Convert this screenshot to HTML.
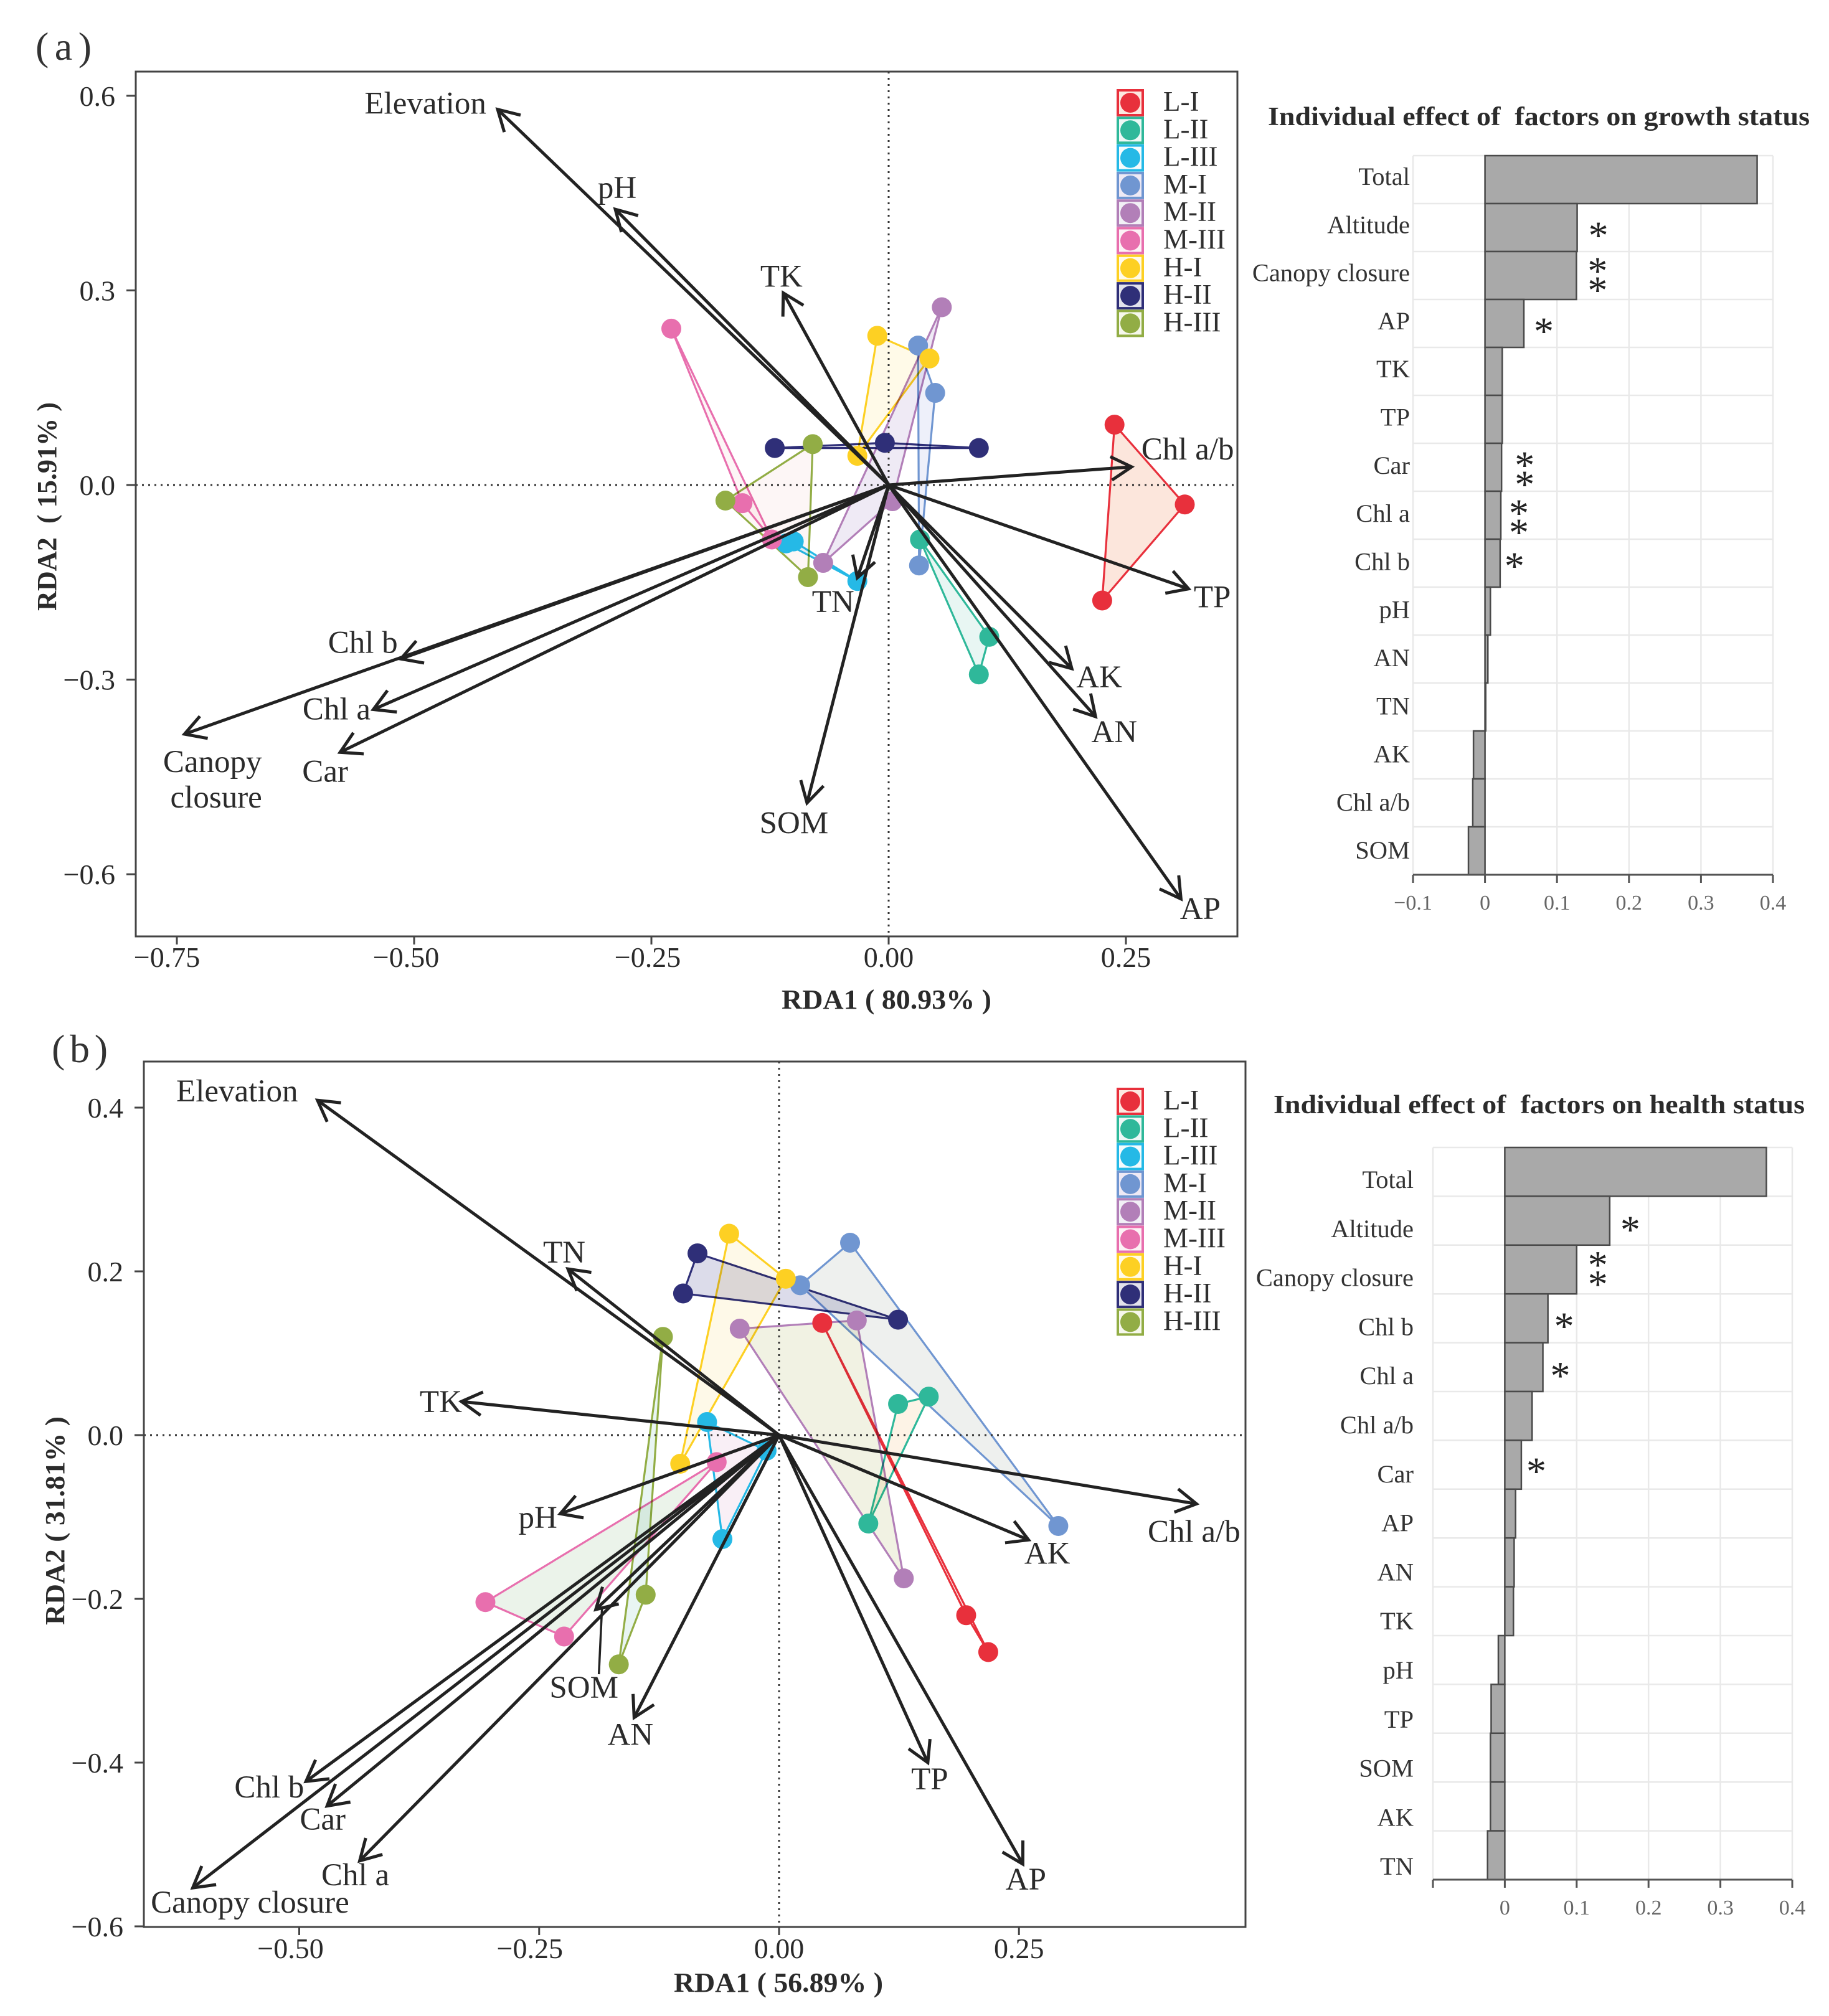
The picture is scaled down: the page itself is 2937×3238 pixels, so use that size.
<!DOCTYPE html>
<html>
<head>
<meta charset="utf-8">
<title>RDA biplots and individual factor effects</title>
<style>
html,body{margin:0;padding:0;background:#fff;}
svg{display:block;font-family:"Liberation Serif",serif;}
</style>
</head>
<body>
<svg id="figure" xmlns="http://www.w3.org/2000/svg" width="2937" height="3238" viewBox="0 0 2937 3238">
<rect width="2937" height="3238" fill="#ffffff"/>
<text x="57" y="96" font-size="64" fill="#333" textLength="90" lengthAdjust="spacing">(a)</text>
<text x="83" y="1706" font-size="64" fill="#333" textLength="90" lengthAdjust="spacing">(b)</text>
<text x="1255" y="1620" font-size="44" font-weight="bold" fill="#2b2b2b" textLength="337" lengthAdjust="spacingAndGlyphs">RDA1 ( 80.93% )</text>
<text transform="translate(90,981) rotate(-90)" font-size="44" font-weight="bold" fill="#2b2b2b" textLength="335" lengthAdjust="spacingAndGlyphs">RDA2&#160;&#160;(&#160;15.91%&#160;)</text>
<text x="1082" y="3199" font-size="44" font-weight="bold" fill="#2b2b2b" textLength="336" lengthAdjust="spacingAndGlyphs">RDA1 ( 56.89% )</text>
<text transform="translate(103,2610) rotate(-90)" font-size="44" font-weight="bold" fill="#2b2b2b" textLength="335" lengthAdjust="spacingAndGlyphs">RDA2 ( 31.81% )</text>
<text x="2036" y="201" font-size="42" font-weight="bold" fill="#2b2b2b" textLength="870" lengthAdjust="spacingAndGlyphs">Individual effect of&#160; factors on growth status</text>
<text x="2045" y="1788" font-size="42" font-weight="bold" fill="#2b2b2b" textLength="853" lengthAdjust="spacingAndGlyphs">Individual effect of&#160; factors on health status</text>
</svg>
<script>
// ---------- shared categories ----------
const groups = ['L-I','L-II','L-III','M-I','M-II','M-III','H-I','H-II','H-III'];

// ---------- panel (a) data ----------
const aFactors = ['Elevation','pH','TK','Chl a/b','TP','AK','AN','AP','SOM','TN','Chl b','Chl a','Car','Canopy\nclosure'];
const aLoadX = [-0.412,-0.288,-0.111,0.256,0.316,0.193,0.218,0.308,-0.086,-0.033,-0.514,-0.543,-0.578,-0.742];
const aLoadY = [0.579,0.425,0.296,0.028,-0.160,-0.283,-0.357,-0.638,-0.490,-0.143,-0.268,-0.346,-0.412,-0.384];
const aScoreX = [
  [0.238,0.312,0.225],[0.033,0.106,0.095],[-0.033,-0.100,-0.108],
  [0.031,0.049,0.032],[0.056,0.004,-0.069],[-0.229,-0.154,-0.123],
  [-0.012,0.043,-0.033],[-0.120,-0.004,0.095],[-0.080,-0.172,-0.085]
];
const aScoreY = [
  [0.093,-0.030,-0.178],[-0.084,-0.234,-0.292],[-0.148,-0.087,-0.090],
  [0.215,0.142,-0.124],[0.274,-0.025,-0.120],[0.241,-0.028,-0.084],
  [0.230,0.195,0.045],[0.057,0.065,0.057],[0.063,-0.024,-0.142]
];
const aXTicks = [-0.75,-0.5,-0.25,0,0.25];
const aXTickLabels = ['−0.75','−0.50','−0.25','0.00','0.25'];
const aYTicks = [0.6,0.3,0,-0.3,-0.6];
const aYTickLabels = ['0.6','0.3','0.0','−0.3','−0.6'];

// ---------- panel (b) data ----------
const bFactors = ['Elevation','TN','TK','pH','SOM','AN','Chl b','Car','Chl a','Canopy closure','TP','AP','AK','Chl a/b'];
const bLoadX = [-0.481,-0.220,-0.331,-0.228,-0.191,-0.151,-0.493,-0.471,-0.437,-0.611,0.155,0.254,0.260,0.435];
const bLoadY = [0.409,0.203,0.041,-0.096,-0.213,-0.345,-0.423,-0.453,-0.520,-0.553,-0.400,-0.524,-0.128,-0.084];
const bScoreX = [
  [0.045,0.195,0.218],[0.124,0.156,0.093],[-0.075,-0.013,-0.059],
  [0.074,0.022,0.291],[-0.041,0.081,0.130],[-0.065,-0.306,-0.224],
  [-0.052,0.007,-0.103],[-0.085,-0.100,0.124],[-0.121,-0.139,-0.167]
];
const bScoreY = [
  [0.137,-0.220,-0.265],[0.038,0.047,-0.108],[0.016,-0.019,-0.127],
  [0.235,0.183,-0.111],[0.130,0.140,-0.175],[-0.033,-0.204,-0.246],
  [0.246,0.191,-0.035],[0.222,0.173,0.141],[0.120,-0.195,-0.280]
];
const bXTicks = [-0.5,-0.25,0,0.25];
const bXTickLabels = ['−0.50','−0.25','0.00','0.25'];
const bYTicks = [0.4,0.2,0,-0.2,-0.4,-0.6];
const bYTickLabels = ['0.4','0.2','0.0','−0.2','−0.4','−0.6'];

// ---------- bar chart data ----------
const growthFactors = ['Total','Altitude','Canopy closure','AP','TK','TP','Car','Chl a','Chl b','pH','AN','TN','AK','Chl a/b','SOM'];
const growthValues = [0.378,0.128,0.127,0.054,0.024,0.024,0.023,0.022,0.021,0.0075,0.004,0.001,-0.016,-0.017,-0.023];
const growthStars = [0,1,2,1,0,0,2,2,1,0,0,0,0,0,0];
const healthFactors = ['Total','Altitude','Canopy closure','Chl b','Chl a','Chl a/b','Car','AP','AN','TK','pH','TP','SOM','AK','TN'];
const healthValues = [0.364,0.146,0.100,0.060,0.053,0.038,0.023,0.015,0.013,0.012,-0.009,-0.019,-0.020,-0.020,-0.024];
const healthStars = [0,1,2,1,1,0,1,0,0,0,0,0,0,0,0];
const barTicks = [-0.1,0,0.1,0.2,0.3,0.4];
const growthTickLabels = ['−0.1','0','0.1','0.2','0.3','0.4'];
const healthTickLabels = ['','0','0.1','0.2','0.3','0.4'];

// ---------- styling & layout (not data) ----------
const groupColors = ['#e8303c','#2fb89a','#25b9e6','#7096d1','#b27fb8','#e86fae','#fdd023','#2f2f78','#92ad45'];
const aHullFills = ['#fce6dc','#e8f6f3','#e3f6fb','#eef0fa','#efeaf5','#fdf6f6','#fffae8','#e6e6f0','#fdf6f6'];
const bHullFills = ['#fdeaea','#fdf3e6','#f9eff6','#eef0ee','#f1f2e3','#ebf3ea','#fef9e8','#dcdcea','#e9f5f3'];
const legendFills = ['#fde8e0','#eef8f6','#f4fbfd','#efeaf5','#f2f0f6','#fdf2f6','#fffae8','#e2e2ec','#f6f8ec'];
const aLabelDX = [-116,3,-3,90,38,44,30,31,-21,-39,-61,-59,-24,45];
const aLabelDY = [-9,-34,-26,-28,14,14,25,16,33,39,-26,0,31,45];
const bLabelDX = [-129,-6,-33,-36,-19,-6,-59,-7,-7,92,3,5,30,-4];
const bLabelDY = [-14,-26,1,7,126,28,10,22,23,24,27,25,22,45];
const aXLabelShift = [-16,-13,-6,0,0];
const bXLabelShift = [-14,-15,0,0];

const NS = 'http://www.w3.org/2000/svg';
const root = document.getElementById('figure');
function slug(s){ return s.toLowerCase().replace(/[^a-z0-9]+/g,'-'); }
function make(tag, attrs, parent){
  const n = document.createElementNS(NS, tag);
  for (const k in attrs) n.setAttribute(k, attrs[k]);
  (parent || root).appendChild(n);
  return n;
}

function drawBiplot(cfg){
  const g = make('g', {});
  
  
  const sx = v => cfg.x0 + cfg.xk * v;
  const sy = v => cfg.y0 - cfg.yk * v;

  // hull polygons
  groups.forEach((name, i) => {
    const pts = cfg.scoreX[i].map((x, j) => sx(x) + ',' + sy(cfg.scoreY[i][j])).join(' ');
    const hull = make('polygon', {points: pts, fill: cfg.hulls[i], stroke: groupColors[i], 'stroke-width': 3.2, 'stroke-linejoin': 'round', style: 'mix-blend-mode:multiply'}, g);
    
    
  });

  // zero lines
  const h0 = make('line', {x1: cfg.left, x2: cfg.right, y1: sy(0), y2: sy(0), stroke: '#333', 'stroke-width': 3, 'stroke-dasharray': '3 7'}, g);
  
  
  const v0 = make('line', {x1: sx(0), x2: sx(0), y1: cfg.top, y2: cfg.bottom, stroke: '#333', 'stroke-width': 3, 'stroke-dasharray': '3 7'}, g);
  
  

  // sample points
  groups.forEach((name, i) => {
    cfg.scoreX[i].forEach((x, j) => {
      const dot = make('circle', {cx: sx(x), cy: sy(cfg.scoreY[i][j]), r: 16, fill: groupColors[i]}, g);
      
      
    });
  });

  // arrows + labels
  cfg.factors.forEach((f, i) => {
    const tx = sx(cfg.loadX[i]), ty = sy(cfg.loadY[i]);
    const ax = sx(0), ay = sy(0);
    const ang = Math.atan2(ty - ay, tx - ax);
    const line = make('line', {x1: ax, y1: ay, x2: tx, y2: ty, stroke: '#222', 'stroke-width': 5}, g);
    
    
    const L = 38, A = 0.52;
    const hp = (tx + L * Math.cos(ang + Math.PI - A)) + ',' + (ty + L * Math.sin(ang + Math.PI - A)) + ' ' + tx + ',' + ty + ' ' + (tx + L * Math.cos(ang + Math.PI + A)) + ',' + (ty + L * Math.sin(ang + Math.PI + A));
    const head = make('polyline', {points: hp, fill: 'none', stroke: '#222', 'stroke-width': 5}, g);
    
    

    const lx = tx + cfg.labelDX[i], ly = ty + cfg.labelDY[i];
    f.split('\n').forEach((part, k) => {
      const t = make('text', {x: lx + (k ? 6 : 0), y: ly + k * 57 + 16, 'font-size': 51, 'text-anchor': 'middle', fill: '#2b2b2b'}, g);
      
      
      t.textContent = part;
    });
    if (cfg.leader === f) {
      const ld = make('line', {x1: tx + 10, y1: ty - 2, x2: lx + 24, y2: ly - 22, stroke: '#222', 'stroke-width': 3.5}, g);
      
      
    }
  });

  // frame
  const frame = make('rect', {x: cfg.left, y: cfg.top, width: cfg.right - cfg.left, height: cfg.bottom - cfg.top, fill: 'none', stroke: '#444', 'stroke-width': 3}, g);
  
  

  // ticks
  cfg.xTicks.forEach((v, i) => {
    const tk = make('line', {x1: sx(v), x2: sx(v), y1: cfg.bottom, y2: cfg.bottom + 13, stroke: '#444', 'stroke-width': 3}, g);
    
    
    const lb = make('text', {x: sx(v) + cfg.xShift[i], y: cfg.xLabelY, 'font-size': 46, 'text-anchor': 'middle', fill: '#2a2a2a'}, g);
    
    
    lb.textContent = cfg.xLabels[i];
  });
  cfg.yTicks.forEach((v, i) => {
    const tk = make('line', {x1: cfg.left - 15, x2: cfg.left, y1: sy(v), y2: sy(v), stroke: '#444', 'stroke-width': 3}, g);
    
    
    const lb = make('text', {x: cfg.left - 33, y: sy(v) + 16, 'font-size': 46, 'text-anchor': 'end', fill: '#2a2a2a'}, g);
    
    
    lb.textContent = cfg.yLabels[i];
  });

  // legend
  groups.forEach((name, i) => {
    const cy = cfg.legendTop + i * 44.3;
    const key = make('rect', {x: 1795, y: cy - 20, width: 40, height: 40, fill: legendFills[i], stroke: groupColors[i], 'stroke-width': 4}, g);
    
    
    const dot = make('circle', {cx: 1815, cy: cy, r: 16, fill: groupColors[i]}, g);
    
    
    const lb = make('text', {x: 1868, y: cy + 13, 'font-size': 45, fill: '#2f2f2f'}, g);
    
    
    lb.textContent = name;
  });
}

function drawBars(cfg){
  const g = make('g', {});
  
  
  const sx = v => cfg.x0 + cfg.xk * v;
  const rowH = (cfg.bottom - cfg.top) / cfg.factors.length;

  // grid
  barTicks.forEach(v => {
    const gl = make('line', {x1: sx(v), x2: sx(v), y1: cfg.top, y2: cfg.bottom, stroke: '#e9e9e9', 'stroke-width': 2.5}, g);
    
    
  });
  for (let i = 0; i < cfg.factors.length; i++) {
    const y = cfg.top + i * rowH;
    const gl = make('line', {x1: sx(-0.1), x2: sx(0.4), y1: y, y2: y, stroke: '#e9e9e9', 'stroke-width': 2.5}, g);
    
    
  }

  // bars, labels, stars
  cfg.factors.forEach((f, i) => {
    const v = cfg.values[i];
    const y = cfg.top + i * rowH;
    const bar = make('rect', {x: Math.min(sx(0), sx(v)), y: y, width: Math.abs(sx(v) - sx(0)), height: rowH, fill: '#a9a9a9', stroke: '#4a4a4a', 'stroke-width': 2.5}, g);
    
    

    const lb = make('text', {x: cfg.labelX, y: cfg.labelTop + i * cfg.labelPitch + 13, 'font-size': 40.5, 'text-anchor': 'end', fill: '#333'}, g);
    
    
    lb.textContent = f;

    const cy = y + rowH / 2;
    const off = cfg.starOffsets[i] || [0, 0];
    for (let s = 0; s < cfg.stars[i]; s++) {
      const st = make('text', {x: sx(v) + off[0], y: cy + off[1] + s * 31 + 30, 'font-size': 64, 'text-anchor': 'middle', fill: '#222'}, g);
      
      
      st.textContent = '*';
    }
  });

  // axis
  const axis = make('line', {x1: sx(-0.1), x2: sx(0.4), y1: cfg.bottom, y2: cfg.bottom, stroke: '#555', 'stroke-width': 3}, g);
  
  
  barTicks.forEach((v, i) => {
    const tk = make('line', {x1: sx(v), x2: sx(v), y1: cfg.bottom, y2: cfg.bottom + 13, stroke: '#555', 'stroke-width': 3}, g);
    
    
    const lb = make('text', {x: sx(v), y: cfg.tickY, 'font-size': 34, 'text-anchor': 'middle', fill: '#666'}, g);
    
    
    lb.textContent = cfg.tickLabels[i];
  });
}

drawBiplot({id:'a', x0:1427, xk:1524, y0:779, yk:1042, left:218, right:1987, top:115, bottom:1504,
  factors:aFactors, loadX:aLoadX, loadY:aLoadY, scoreX:aScoreX, scoreY:aScoreY, hulls:aHullFills,
  labelDX:aLabelDX, labelDY:aLabelDY, xTicks:aXTicks, xLabels:aXTickLabels, xShift:aXLabelShift, yTicks:aYTicks, yLabels:aYTickLabels,
  xLabelY:1553, legendTop:165});

drawBiplot({id:'b', x0:1251, xk:1541, y0:2305, yk:1315, left:231, right:2000, top:1705, bottom:3095,
  factors:bFactors, loadX:bLoadX, loadY:bLoadY, scoreX:bScoreX, scoreY:bScoreY, hulls:bHullFills,
  labelDX:bLabelDX, labelDY:bLabelDY, xTicks:bXTicks, xLabels:bXTickLabels, xShift:bXLabelShift, yTicks:bYTicks, yLabels:bYTickLabels,
  xLabelY:3145, legendTop:1769, leader:'SOM'});

drawBars({id:'growth', x0:2384.6, xk:1156, top:250, bottom:1405, labelX:2264, labelTop:284, labelPitch:77.3, tickY:1461,
  factors:growthFactors, values:growthValues, stars:growthStars, tickLabels:growthTickLabels,
  starOffsets:{1:[34,4],2:[34,-16],3:[32,4],6:[37,-12],7:[29,-12],8:[23,-4]}});

drawBars({id:'health', x0:2416.4, xk:1154, top:1843, bottom:3019, labelX:2270, labelTop:1895, labelPitch:78.8, tickY:3075,
  factors:healthFactors, values:healthValues, stars:healthStars, tickLabels:healthTickLabels,
  starOffsets:{1:[33,6],2:[34,-16],3:[26,4],4:[28,5],6:[24,2]}});
</script>
</body>
</html>
